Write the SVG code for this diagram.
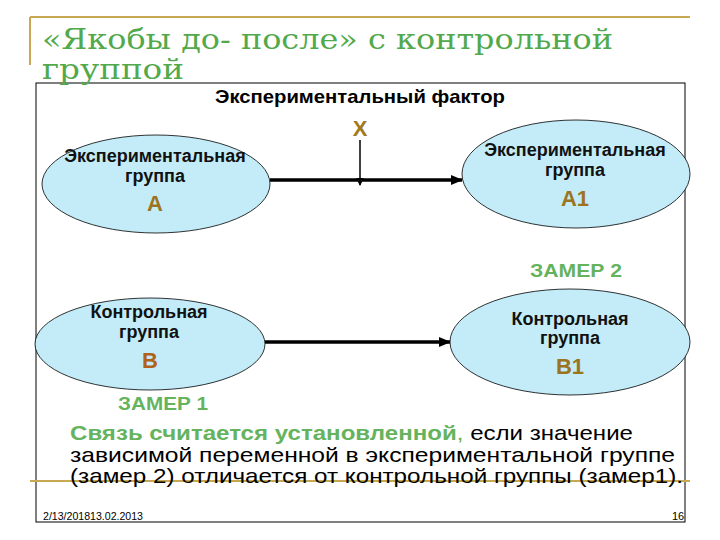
<svg xmlns="http://www.w3.org/2000/svg" width="720" height="540" viewBox="0 0 720 540">
<defs>
<style>
.title{font-family:"DejaVu Serif","Liberation Serif",serif;font-size:28px;fill:#52a94c}
.sans{font-family:"Liberation Sans",Arial,sans-serif}
.lbl{font-family:"Liberation Sans",Arial,sans-serif;font-size:18px;font-weight:bold;fill:#111;text-anchor:middle}
.let{font-family:"Liberation Sans",Arial,sans-serif;font-size:22px;font-weight:bold;text-anchor:middle}
.zam{font-family:"Liberation Sans",Arial,sans-serif;font-size:18px;font-weight:bold;fill:#66b35e}
.ell{fill:#c3ecf8;stroke:#000;stroke-width:0.8}
.gold{stroke:#c8a850;stroke-width:2;fill:none}
.conn{stroke:#000;stroke-width:3.5;fill:none}
.body{font-family:"Liberation Sans",Arial,sans-serif;font-size:21px;fill:#000}
</style>
<marker id="ah" markerUnits="userSpaceOnUse" markerWidth="12" markerHeight="10" refX="11" refY="5" orient="auto">
<path d="M0,0 L12,5 L0,10 Z" fill="#000"/>
</marker>
<marker id="ahs" markerUnits="userSpaceOnUse" markerWidth="8" markerHeight="8" refX="7" refY="4" orient="auto">
<path d="M0,0 L8,4 L0,8 Z" fill="#000"/>
</marker>
</defs>
<rect x="0" y="0" width="720" height="540" fill="#fff"/>
<g id="frame">
<line class="gold" x1="30" y1="17" x2="690" y2="17"/>
<line class="gold" x1="30" y1="17" x2="30" y2="65"/>
<rect x="36" y="83" width="649" height="439" fill="none" stroke="#000" stroke-width="1"/>
<line class="gold" x1="30" y1="481" x2="690" y2="481"/>
</g>
<g id="title">
<text class="title" x="42" y="49" textLength="571" lengthAdjust="spacingAndGlyphs">«Якобы до- после» с контрольной</text>
<text class="title" x="42" y="79" textLength="142" lengthAdjust="spacingAndGlyphs">группой</text>
</g>
<g id="factor">
<text class="sans" x="215" y="103" font-size="19" font-weight="bold" fill="#000" textLength="290" lengthAdjust="spacingAndGlyphs">Экспериментальный фактор</text>
<text class="let" x="360" y="136" fill="#a07a1c">Х</text>
</g>
<g id="connectors">
<line class="conn" x1="270" y1="180" x2="462" y2="180" marker-end="url(#ah)"/>
<line x1="360" y1="140" x2="360" y2="185" stroke="#000" stroke-width="1.5" marker-end="url(#ahs)"/>
<line class="conn" x1="265" y1="342" x2="450" y2="342" marker-end="url(#ah)"/>
</g>
<g id="node-A">
<ellipse class="ell" cx="156" cy="184" rx="114" ry="49"/>
<text class="lbl" x="155" y="162">Экспериментальная</text>
<text class="lbl" x="155" y="182">группа</text>
<text class="let" x="155" y="211" fill="#9c7420">А</text>
</g>
<g id="node-A1">
<ellipse class="ell" cx="576" cy="174" rx="114" ry="54"/>
<text class="lbl" x="575" y="156">Экспериментальная</text>
<text class="lbl" x="575" y="176">группа</text>
<text class="let" x="575" y="206" fill="#9c7420">А1</text>
</g>
<g id="node-B">
<ellipse class="ell" cx="150" cy="344" rx="115" ry="46"/>
<text class="lbl" x="149" y="318">Контрольная</text>
<text class="lbl" x="149" y="338">группа</text>
<text class="let" x="150" y="368" fill="#b0621a">В</text>
</g>
<g id="node-B1">
<ellipse class="ell" cx="570" cy="342" rx="120" ry="53"/>
<text class="lbl" x="570" y="325">Контрольная</text>
<text class="lbl" x="570" y="344">группа</text>
<text class="let" x="570" y="374" fill="#9c7420">В1</text>
</g>
<g id="measures">
<text class="zam" x="530" y="277" textLength="92" lengthAdjust="spacingAndGlyphs">ЗАМЕР 2</text>
<text class="zam" x="118" y="410" textLength="90" lengthAdjust="spacingAndGlyphs">ЗАМЕР 1</text>
</g>
<g id="conclusion">
<text class="body" x="70" y="440" textLength="563" lengthAdjust="spacingAndGlyphs"><tspan font-weight="bold" fill="#66b35e">Связь считается установленной</tspan><tspan fill="#66b35e">,</tspan> если значение</text>
<text class="body" x="70" y="462" textLength="605" lengthAdjust="spacingAndGlyphs">зависимой переменной в экспериментальной группе</text>
<text class="body" x="70" y="483" textLength="613" lengthAdjust="spacingAndGlyphs">(замер 2) отличается от контрольной группы (замер1).</text>
</g>
<g id="footer">
<text class="sans" x="43" y="520" font-size="11" fill="#000" textLength="100" lengthAdjust="spacingAndGlyphs">2/13/201813.02.2013</text>
<text class="sans" x="672" y="520" font-size="11" fill="#000">16</text>
</g>
</svg>
